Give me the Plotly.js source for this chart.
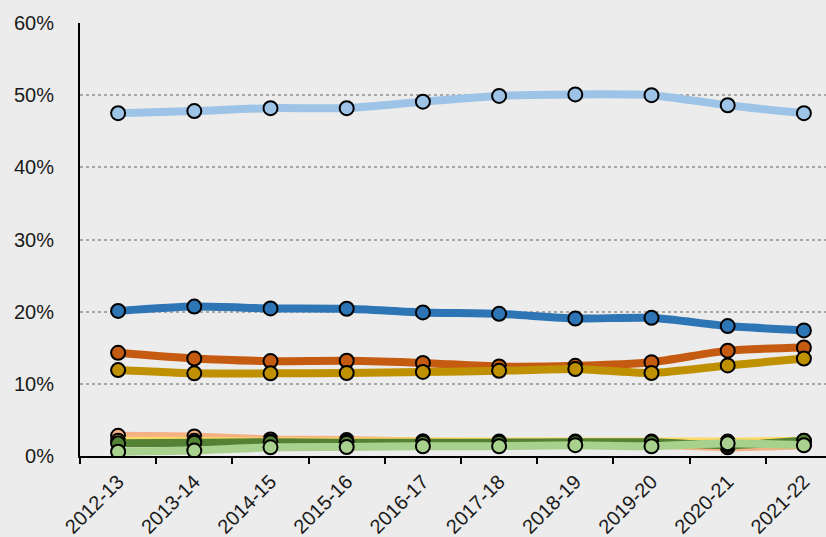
<!DOCTYPE html>
<html>
<head>
<meta charset="utf-8">
<script src="https://cdn.plot.ly/plotly-3.0.1.min.js"></script>
<style>html,body{margin:0;padding:0;background:#ececec;}#chart{width:826px;height:537px;}</style>
</head>
<body>
<div id="chart"></div>
<script>
var years = ["2012-13","2013-14","2014-15","2015-16","2016-17","2017-18","2018-19","2019-20","2020-21","2021-22"];
var lightBlue = [47.5, 47.8, 48.2, 48.2, 49.1, 49.9, 50.1, 50.0, 48.6, 47.5];
var blue      = [20.1, 20.7, 20.45, 20.4, 19.9, 19.7, 19.05, 19.15, 18.0, 17.4];
var orange    = [14.3, 13.5, 13.15, 13.2, 12.9, 12.4, 12.5, 13.0, 14.6, 15.05];
var gold      = [11.9, 11.45, 11.45, 11.5, 11.65, 11.8, 12.05, 11.5, 12.55, 13.5];
var lightOrange = [2.8, 2.7, 2.3, 2.2, 2.0, 1.9, 1.8, 1.6, 1.2, 1.5];
var yellow    = [2.1, 2.1, 2.0, 2.0, 2.0, 2.0, 2.0, 2.0, 2.0, 2.1];
var darkGreen = [1.75, 1.85, 1.9, 1.85, 1.85, 1.85, 1.9, 1.9, 1.5, 2.1];
var lightGreen = [0.6, 0.75, 1.2, 1.25, 1.35, 1.35, 1.5, 1.35, 1.75, 1.5];
var yTicks = [0, 10, 20, 30, 40, 50, 60];
var yTickText = ["0%", "10%", "20%", "30%", "40%", "50%", "60%"];

var seriesList = [
  {y: lightBlue, c: "#9dc3e6"},
  {y: blue, c: "#2e75b6"},
  {y: orange, c: "#c55a11"},
  {y: gold, c: "#bf9000"},
  {y: lightOrange, c: "#f4b183"},
  {y: yellow, c: "#ffd966"},
  {y: darkGreen, c: "#548235"},
  {y: lightGreen, c: "#a9d18e"}
];
var traces = seriesList.map(function(s){
  return {
    x: years, y: s.y, type: "scatter", mode: "lines+markers",
    line: {color: s.c, width: 8, shape: "spline", smoothing: 0.6},
    marker: {color: s.c, size: 14, line: {color: "#000", width: 2}},
    hoverinfo: "skip", showlegend: false
  };
});

var layout = {
  width: 826, height: 537,
  paper_bgcolor: "#ececec", plot_bgcolor: "#ececec",
  margin: {l: 80, r: 0, t: 23, b: 81},
  font: {family: "Liberation Sans, Arial, sans-serif", color: "#1a1a1a"},
  xaxis: {
    type: "category", range: [-0.5, 9.29],
    showgrid: false, zeroline: false,
    showline: true, linecolor: "#000", linewidth: 2,
    ticks: "outside", tickson: "boundaries", ticklen: 6, tickwidth: 2, tickcolor: "#000",
    ticklabelstandoff: 4,
    tickangle: -45, tickfont: {size: 20, color: "#1a1a1a"}
  },
  yaxis: {
    range: [0, 60], tickvals: yTicks, ticktext: yTickText,
    showgrid: true, gridcolor: "#a8a8a8", gridwidth: 2, griddash: "dot",
    zeroline: false, showline: true, linecolor: "#000", linewidth: 2,
    ticks: "", ticklabelstandoff: 20, tickfont: {size: 20, color: "#1a1a1a"}
  }
};
Plotly.newPlot("chart", traces, layout, {displayModeBar: false, staticPlot: true});
</script>
</body>
</html>
